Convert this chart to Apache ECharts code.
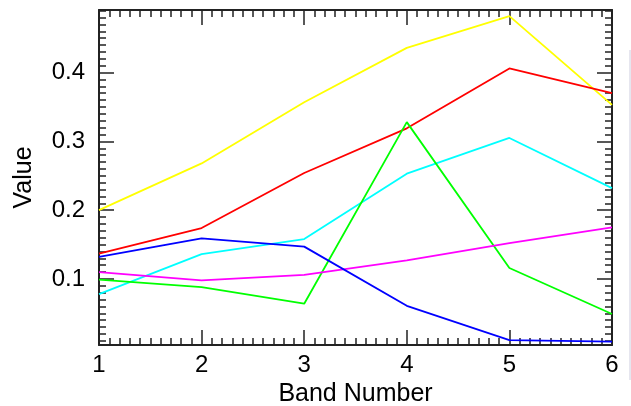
<!DOCTYPE html>
<html>
<head>
<meta charset="utf-8">
<script src="https://cdn.jsdelivr.net/npm/echarts@6/dist/echarts.min.js"></script>
<style>html,body{margin:0;padding:0;background:#fff;}#c{width:631px;height:406px;}</style>
</head>
<body>
<div id="c"></div>
<script>
var bands = [1, 2, 3, 4, 5, 6];
var yellowVals  = [0.200, 0.268, 0.357, 0.436, 0.482, 0.353];
var redVals     = [0.137, 0.174, 0.254, 0.319, 0.406, 0.370];
var cyanVals    = [0.078, 0.136, 0.158, 0.253, 0.305, 0.232];
var greenVals   = [0.099, 0.088, 0.064, 0.328, 0.116, 0.049];
var blueVals    = [0.132, 0.159, 0.147, 0.061, 0.011, 0.009];
var magentaVals = [0.110, 0.098, 0.106, 0.127, 0.152, 0.175];
var xTitle = 'Band Number';
var yTitle = 'Value';
var yMin = 0.004, yMax = 0.491;

var FONT = '"Liberation Sans", Arial, Helvetica, sans-serif';
var AX = '#222';

function pairs(v) { return bands.map(function (b, i) { return [b, v[i]]; }); }
function line(name, vals, color) {
  return { name: name, type: 'line', data: pairs(vals), xAxisIndex: 0, yAxisIndex: 0,
    showSymbol: false, symbol: 'none', smooth: false, animation: false,
    lineStyle: { color: color, width: 1.8 }, itemStyle: { color: color } };
}

function xAx(pos, labels) {
  return {
    type: 'value', position: pos, min: 1, max: 6, interval: 1,
    name: labels ? xTitle : '', nameLocation: 'middle', nameGap: 33,
    nameTextStyle: { fontSize: 25, color: '#000', fontFamily: FONT },
    axisLine: { show: true, onZero: false, lineStyle: { color: AX, width: 2 } },
    axisTick: { show: true, inside: true, length: 15, lineStyle: { color: AX, width: 1.5 } },
    minorTick: { show: true, splitNumber: 10, length: 7, lineStyle: { color: AX, width: 1.5 } },
    axisLabel: { show: labels, margin: 8, fontSize: 24, color: '#000', fontFamily: FONT },
    splitLine: { show: false }, minorSplitLine: { show: false }
  };
}
function yMain(pos, labels) {
  return {
    type: 'value', position: pos, min: yMin, max: yMax, minInterval: 0.1, maxInterval: 0.1,
    name: labels ? yTitle : '', nameLocation: 'middle', nameGap: 62,
    nameTextStyle: { fontSize: 25, color: '#000', fontFamily: FONT },
    axisLine: { show: true, onZero: false, lineStyle: { color: AX, width: 2 } },
    axisTick: { show: true, inside: true, length: 15, lineStyle: { color: AX, width: 1.5 } },
    axisLabel: { show: labels, margin: 14, fontSize: 24, color: '#000', fontFamily: FONT,
      showMinLabel: false, showMaxLabel: false,
      formatter: function (v) {
        var r = Math.round(v * 10) / 10;
        return Math.abs(r - v) < 1e-6 ? r.toFixed(1) : '';
      } },
    splitLine: { show: false }
  };
}
function yMinor(pos) {
  return {
    type: 'value', position: pos, min: yMin, max: yMax, minInterval: 0.01, maxInterval: 0.01,
    axisLine: { show: false, onZero: false },
    axisTick: { show: true, inside: true, length: 7, lineStyle: { color: AX, width: 1.5 } },
    axisLabel: { show: false }, splitLine: { show: false }
  };
}

var chart = echarts.init(document.getElementById('c'), null, { renderer: 'canvas' });
chart.setOption({
  backgroundColor: '#fff',
  animation: false,
  grid: { left: 99, right: 19, top: 10, bottom: 61, containLabel: false, outerBoundsMode: 'none' },
  xAxis: [xAx('bottom', true), xAx('top', false)],
  yAxis: [yMain('left', true), yMinor('left'), yMain('right', false), yMinor('right')],
  series: [
    line('yellow', yellowVals, '#ffff00'),
    line('red', redVals, '#ff0000'),
    line('cyan', cyanVals, '#00ffff'),
    line('green', greenVals, '#00ff00'),
    line('magenta', magentaVals, '#ff00ff'),
    line('blue', blueVals, '#0000ff')
  ],
  graphic: [
    { type: 'rect', shape: { x: 629, y: 50, width: 2, height: 330 }, style: { fill: '#e6e6ef' }, silent: true }
  ]
});
</script>
</body>
</html>
